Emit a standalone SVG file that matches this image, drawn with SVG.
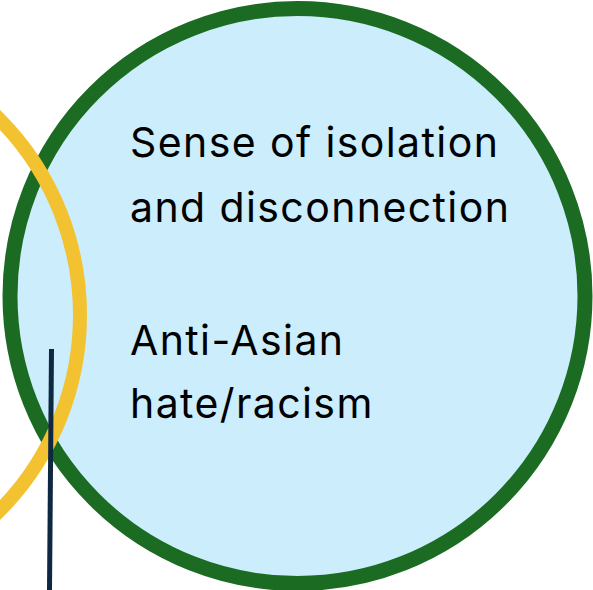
<svg xmlns="http://www.w3.org/2000/svg" width="593" height="590" viewBox="0 0 593 590">
<style>
.t{font-family:Inter,"Noto Sans",sans-serif;font-size:41px;letter-spacing:1.4px;fill:#000}
</style>
<rect width="593" height="590" fill="#fff"/>
<g id="main-circle">
<circle cx="297.5" cy="296" r="287.5" fill="#cbedfc" stroke="#1b6b23" stroke-width="15"/>
</g>
<g id="yellow-arc">
<circle cx="-198" cy="315" r="278" fill="none" stroke="#f2c230" stroke-width="14"/>
</g>
<g id="connectors">
<line x1="51.5" y1="349" x2="49.5" y2="590" stroke="#0f2842" stroke-width="5"/>
</g>
<g id="labels">
<text class="t" x="130" y="157">Sense of isolation</text>
<text class="t" x="130" y="222">and disconnection</text>
<text class="t" x="130" y="355">Anti-Asian</text>
<text class="t" x="130" y="418">hate/racism</text>
</g>
</svg>
